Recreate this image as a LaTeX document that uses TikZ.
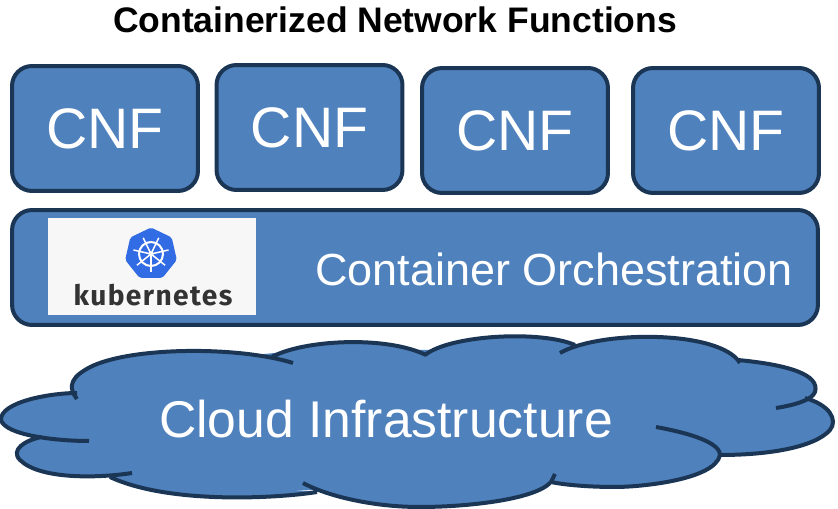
\documentclass[tikz,border=0pt]{standalone}
\usepackage{fontspec}
\setmainfont{Liberation Sans}
\newfontfamily\kubefont[LetterSpace=5]{Fira Sans}
\usepackage{tikz}
\usetikzlibrary{shapes.geometric}
\definecolor{boxblue}{HTML}{4F81BD}
\definecolor{boxline}{HTML}{1B3555}
\definecolor{kubeblue}{HTML}{326CE5}
\definecolor{kubepaper}{HTML}{F7F7F7}
\definecolor{kubetext}{HTML}{333333}

\begin{document}
\begin{tikzpicture}[x=0.02cm,y=-0.02cm]
    \tikzset{layerbox/.style = {shape=rectangle,draw=boxline,fill=boxblue,line width=0.08cm,rounded corners=0.4cm,text=white,inner sep=0pt}}
    \tikzset{cnfbox/.style = {layerbox,minimum width=3.72cm,minimum height=2.5cm,font=\fontsize{32.5}{32.5}\selectfont}}
    \tikzset{whitetext/.style = {text=white,inner sep=0pt}}
    \tikzset{cloudline/.style = {draw=boxline,fill=boxblue,line width=0.08cm}}
    \tikzset{spoke/.style = {draw=white,line width=0.03cm}}
    \useasboundingbox (0,0) rectangle (838,509);
    % title
    \node[inner sep=0pt,font=\fontsize{20.2}{20.2}\selectfont\bfseries] (title) at (395,20) {Containerized Network Functions};
    % network functions
    \node[cnfbox] (cnf1) at (105,128.5) {CNF};
    \node[cnfbox] (cnf2) at (309.5,127.5) {CNF};
    \node[cnfbox] (cnf3) at (515,130.5) {CNF};
    \node[cnfbox] (cnf4) at (726,130.5) {CNF};
    % orchestration layer
    \node[layerbox,minimum width=16.12cm,minimum height=2.3cm] (orch) at (415,267.5) {};
    \node[whitetext,font=\fontsize{25.6}{25.6}\selectfont] (orchlabel) at (554,269) {Container Orchestration};
    % kubernetes logo
    \node[fill=kubepaper,minimum width=4.16cm,minimum height=1.94cm,inner sep=0pt] (logo) at (152,266.5) {};
    \node[shape=regular polygon,regular polygon sides=7,fill=kubeblue,rounded corners=0.04cm,minimum size=1.06cm,inner sep=0pt] (wheel) at (151,254) {};
    \draw[spoke,line width=0.04cm] (wheel.center) circle (12);
    \foreach \a in {90,141.4,192.9,244.3,295.7,347.1,398.6}
        \draw[spoke] (wheel.center) -- ++(\a:18);
    \node[fill=white,shape=circle,minimum size=0.1cm,inner sep=0pt] (hub) at (wheel.center) {};
    \node[inner sep=0pt,text=kubetext,font=\fontsize{16}{16}\kubefont\bfseries] (kube) at (153,295) {kubernetes};
    % cloud
    \fill[boxblue] (77,399) -- (180,362) -- (285,352) -- (367,350) -- (426,350) -- (500,345) -- (575,345) -- (650,345) -- (740,363) -- (790,385) -- (776,408) -- (805,398) -- (820,420) -- (720,455) -- (615,480) -- (551,482) -- (420,500) -- (312,490) -- (233,494) -- (110,477) -- (60,465) -- (42,437) -- (30,420) -- cycle;
    \draw[cloudline]
        (77,399) .. controls (70,390) and (68,380) .. (85,370) .. controls (120,347) and (235,345) .. (293,363)
        (270,358) .. controls (300,340) and (385,335) .. (426,355)
        (425,355) .. controls (450,335) and (540,330) .. (575,345)
        (560,353) .. controls (600,330) and (720,330) .. (740,363)
        (738,360) .. controls (790,365) and (820,375) .. (815,392) .. controls (812,400) and (795,405) .. (776,408)
        (805,398) .. controls (830,405) and (838,420) .. (830,430) .. controls (815,447) and (770,455) .. (720,455)
        (656,427) .. controls (700,435) and (720,445) .. (720,455) .. controls (715,480) and (640,487) .. (615,487) .. controls (590,487) and (565,485) .. (551,482) -- (555,474)
        (551,482) .. controls (535,500) and (465,507) .. (420,507) .. controls (370,507) and (325,495) .. (303,483)
        (317,492) .. controls (280,498) and (170,505) .. (110,477)
        (132,473) .. controls (100,478) and (40,480) .. (20,460) .. controls (10,450) and (25,440) .. (42,437)
        (89,441) .. controls (55,441) and (5,435) .. (1,420) .. controls (0,402) and (50,393) .. (77,393);
    \node[whitetext,font=\fontsize{29.4}{29.4}\selectfont] (cloudlabel) at (386,419) {Cloud Infrastructure};
\end{tikzpicture}
\end{document}
